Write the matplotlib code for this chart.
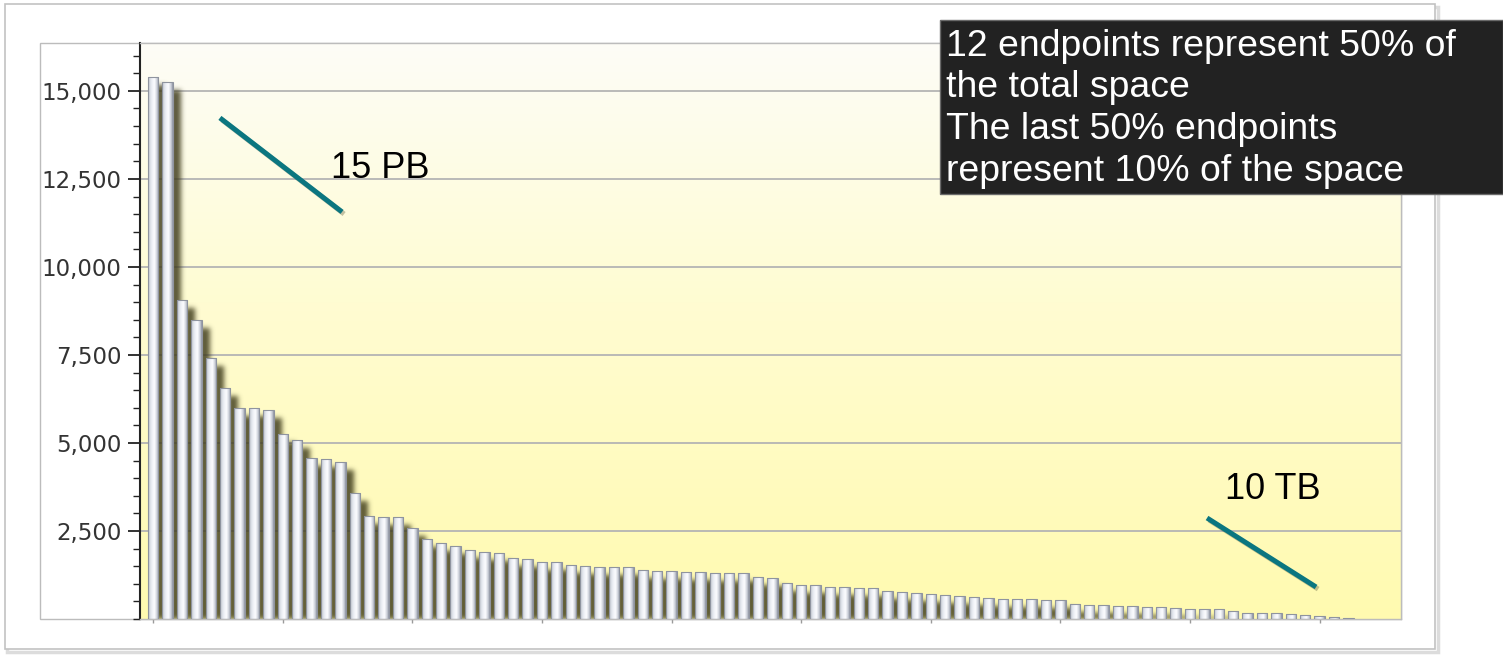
import numpy as np
import matplotlib
matplotlib.use("Agg")
import matplotlib.pyplot as plt
import matplotlib.patches as patches
import matplotlib.patheffects as pe
from matplotlib.colors import LinearSegmentedColormap, to_rgb
from matplotlib.ticker import FixedLocator, MultipleLocator, StrMethodFormatter

# space used per endpoint (TB), largest first
endpoint_tb = [15400, 15250, 9070, 8490, 7420, 6560, 6000, 5980, 5940, 5260,
               5090, 4580, 4550, 4460, 3570, 2930, 2905, 2900, 2595, 2265,
               2150, 2060, 1965, 1900, 1875, 1735, 1710, 1630, 1610, 1525,
               1510, 1467, 1467, 1467, 1405, 1370, 1372, 1345, 1326, 1320,
               1297, 1297, 1184, 1165, 1032, 975, 975, 910, 900, 890,
               871, 786, 758, 729, 701, 682, 653, 634, 597, 582,
               568, 559, 545, 540, 435, 408, 398, 370, 360, 340,
               331, 312, 284, 284, 275, 218, 161, 161, 161, 142,
               123, 95, 47, 28]
y_ticks = [2500, 5000, 7500, 10000, 12500, 15000]
label_big = "15 PB"
label_small = "10 TB"
box_lines = ["12 endpoints represent 50% of",
             "the total space",
             "The last 50% endpoints",
             "represent 10% of the space"]

W, H = 1503, 656
fig = plt.figure(figsize=(W / 100, H / 100), dpi=100)
fig.patch.set_facecolor("white")


def fx(px):
    return px / W


def fy(py):
    return 1 - py / H


# outer card with a soft edge
fig.add_artist(patches.Rectangle((fx(7), fy(652)), 1431 / W, 645 / H, transform=fig.transFigure,
                                 fill=False, edgecolor="#dcdcdc", lw=2.5, zorder=0))
fig.add_artist(patches.Rectangle((fx(5), fy(649)), 1430 / W, 645 / H, transform=fig.transFigure,
                                 facecolor="white", edgecolor="#c2c2c2", lw=1.2, zorder=0))
# white panel holding the chart
fig.add_artist(patches.Rectangle((fx(40), fy(619)), 1361 / W, 576 / H, transform=fig.transFigure,
                                 facecolor="white", edgecolor="#bcbcbc", lw=1.0, zorder=0))

ax = fig.add_axes([fx(140), fy(619), 1261 / W, 576 / H])
ax.set_zorder(1)
ax.patch.set_alpha(0)

n = len(endpoint_tb)
x = np.arange(n)
xl0 = -0.92
xl1 = xl0 + 1261 / 14.4
ymax = 16360
bw = 0.72

# pale yellow backdrop
bg_cmap = LinearSegmentedColormap.from_list("bg", [(0, "#fdfdf7"), (0.45, "#fffcd2"), (1, "#fffab0")])
ax.imshow(np.linspace(0, 1, 256).reshape(-1, 1), extent=[xl0, xl1, 0, ymax], origin="upper",
          aspect="auto", cmap=bg_cmap, zorder=0)

for v in y_ticks:
    ax.axhline(v, color="#b4b4b4", lw=1.3, zorder=0.5)

# blurred drop shadow behind the bars, built on a pixel grid
sdx = 8 / 14.4
sdy = 8 / 88 * 2500
nx, ny = 1261, 576
gx = xl0 + (np.arange(nx) + 0.5) * (xl1 - xl0) / nx
gy = (np.arange(ny) + 0.5) * ymax / ny
mask = np.zeros((ny, nx))
for i, v in enumerate(endpoint_tb):
    cols = np.nonzero(np.abs(gx - (i + sdx)) <= bw / 2)[0]
    rows = np.nonzero(gy <= v - sdy)[0]
    if len(rows) and len(cols):
        mask[rows[0]:rows[-1] + 1, cols[0]:cols[-1] + 1] = 1.0
k = np.exp(-0.5 * (np.arange(-9, 10) / 2.5) ** 2)
k /= k.sum()
mask = np.apply_along_axis(lambda r: np.convolve(r, k, mode="same"), 1, mask)
mask = np.apply_along_axis(lambda c: np.convolve(c, k, mode="same"), 0, mask)
shadow = np.zeros((ny, nx, 4))
shadow[..., :3] = to_rgb("#3f3c1c")
shadow[..., 3] = np.clip(0.85 * mask, 0, 1)
ax.imshow(shadow, extent=[xl0, xl1, 0, ymax], origin="lower", aspect="auto",
          interpolation="nearest", zorder=1)

# silver bars
bar_cmap = LinearSegmentedColormap.from_list(
    "bar", [(0, "#959ba8"), (0.12, "#d2d6de"), (0.35, "#edf0f5"), (0.6, "#fcfdff"),
            (0.85, "#c6cad4"), (1, "#8c92a0")])
bars = ax.bar(x, endpoint_tb, width=bw, color="none", edgecolor="#8f949f", lw=0.8, zorder=3)
profile = np.linspace(0, 1, 64).reshape(1, -1)
for rect in bars:
    x0, w, h = rect.get_x(), rect.get_width(), rect.get_height()
    img = ax.imshow(profile, extent=[x0, x0 + w, 0, h], aspect="auto", cmap=bar_cmap, zorder=2)
    img.set_clip_path(rect)

# callouts
shadow_fx = [pe.SimpleLineShadow(offset=(1.5, -1.5), shadow_color="#555533", alpha=0.35), pe.Normal()]
ax.plot([4.63, 13.11], [14233, 11562], color="#0b7680", lw=3.6, solid_capstyle="butt",
        path_effects=shadow_fx, zorder=5)
ax.plot([73.18, 80.75], [2869, 909], color="#0b7680", lw=3.6, solid_capstyle="butt",
        path_effects=shadow_fx, zorder=5)
ax.text(12.34, 12800, label_big, fontsize=26, family="Liberation Sans", va="center", ha="left", zorder=6)
ax.text(74.43, 3665, label_small, fontsize=26, family="Liberation Sans", va="center", ha="left", zorder=6)

ax.set_xlim(xl0, xl1)
ax.set_ylim(0, ymax)

ax.yaxis.set_major_locator(FixedLocator(y_ticks))
ax.yaxis.set_minor_locator(MultipleLocator(500))
ax.yaxis.set_major_formatter(StrMethodFormatter("{x:,.0f}"))
ax.tick_params(axis="y", which="major", length=9, width=1.3, color="#222222", pad=4.3,
               labelsize=16.5, labelcolor="#333333")
ax.tick_params(axis="y", which="minor", length=5, width=1.0, color="#222222")
ax.set_xticks(x[::9])
ax.tick_params(axis="x", length=3, width=1, color="#9a9a9a", labelbottom=False)

ax.spines["left"].set_color("#222222")
ax.spines["left"].set_linewidth(1.5)
for side in ["bottom", "right", "top"]:
    ax.spines[side].set_color("#bcbcbc")
    ax.spines[side].set_linewidth(1.0)

# summary box in the top right corner
fig.add_artist(patches.Rectangle((fx(940), fy(194)), (W - 940) / W, 174 / H, transform=fig.transFigure,
                                 facecolor="#222222", edgecolor="#6a6a6a", lw=1, zorder=10))
for line, py in zip(box_lines, [56, 97, 139, 181]):
    fig.text(fx(946), fy(py), line, color="white", fontsize=26.9, family="Liberation Sans",
             va="baseline", ha="left", zorder=11)

fig.savefig("out.png", dpi=100)
